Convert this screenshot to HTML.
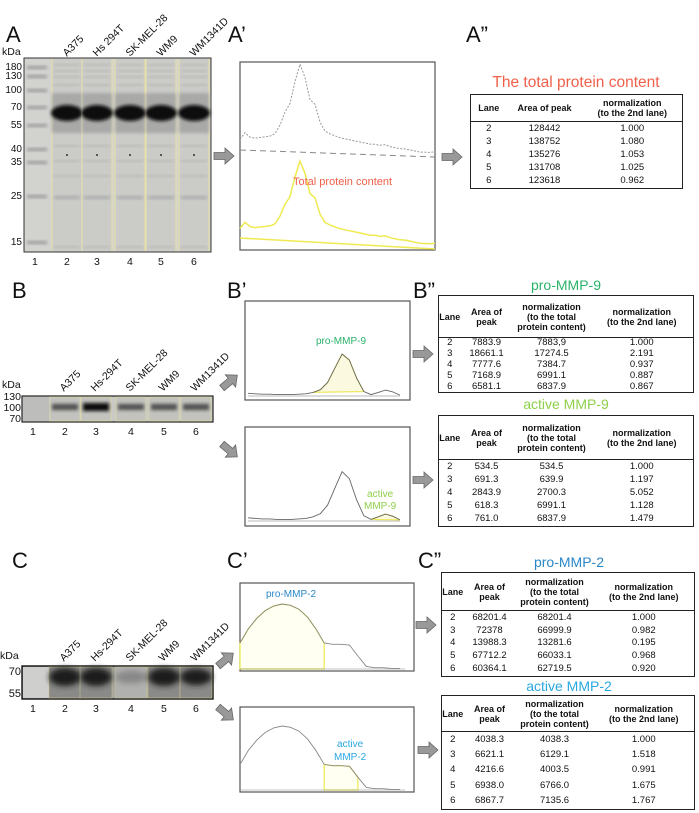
<!DOCTYPE html>
<html><head><meta charset="utf-8">
<style>
body{margin:0;background:#fff;}
#root{position:relative;width:699px;height:813px;overflow:hidden;font-family:"Liberation Sans",sans-serif;color:#111;}
.abs{position:absolute;white-space:nowrap;}
.big{font-size:22px;line-height:22px;}
.lbl{font-size:10.5px;transform-origin:0 100%;transform:rotate(-45deg);}
.num{font-size:10.5px;}
.tk{font-size:10px;text-align:right;width:22px;line-height:10px;}
table{position:absolute;border-collapse:collapse;border:1.5px solid #222;font-size:9.5px;table-layout:fixed;background:#fff;}
th{font-weight:bold;font-size:9px;line-height:10px;border-bottom:1.5px solid #222;padding:0;}
td{text-align:center;padding:0;line-height:10px;}
.ttl{font-size:14px;text-align:center;}
</style></head><body>
<div id="root">
<svg id="svg" width="699" height="813" style="position:absolute;left:0;top:0"></svg>

<div class="abs big" style="left:6px;top:24px">A</div>
<div class="abs big" style="left:228px;top:24px">A’</div>
<div class="abs big" style="left:466px;top:24px">A”</div>
<div class="abs big" style="left:12px;top:280px">B</div>
<div class="abs big" style="left:227px;top:280px">B’</div>
<div class="abs big" style="left:413px;top:280px">B”</div>
<div class="abs big" style="left:12px;top:550px">C</div>
<div class="abs big" style="left:227px;top:550px">C’</div>
<div class="abs big" style="left:418px;top:550px">C”</div>

<div class="abs num" style="left:2px;top:46px">kDa</div>
<div class="abs num" style="left:2px;top:379px">kDa</div>
<div class="abs num" style="left:0px;top:650px">kDa</div>

<div class="abs" style="left:293px;top:176px;font-size:11px;color:#f0604a">Total protein content</div>
<div class="abs" style="left:316px;top:336px;font-size:10px;color:#2bb36a">pro-MMP-9</div>
<div class="abs" style="left:364px;top:489px;font-size:10px;color:#8fd04a;text-align:center;line-height:12px">active<br>MMP-9</div>
<div class="abs" style="left:266px;top:589px;font-size:10px;color:#2a87c8">pro-MMP-2</div>
<div class="abs" style="left:334px;top:738px;font-size:10px;color:#29a8e0;text-align:center;line-height:13px">active<br>MMP-2</div>

<div class="abs ttl" style="left:470px;top:74px;width:212px;font-size:15.5px;color:#f0604a">The total protein content</div>
<table style="left:470px;top:94px;width:213px;height:95px">
<colgroup><col style="width:36px"><col style="width:76px"><col></colgroup>
<tr style="height:27px"><th>Lane</th><th>Area of peak</th><th>normalization<br>(to the 2nd lane)</th></tr>
<tr><td>2</td><td>128442</td><td>1.000</td></tr>
<tr><td>3</td><td>138752</td><td>1.080</td></tr>
<tr><td>4</td><td>135276</td><td>1.053</td></tr>
<tr><td>5</td><td>131708</td><td>1.025</td></tr>
<tr><td>6</td><td>123618</td><td>0.962</td></tr>
</table>

<div class="abs ttl" style="left:438px;top:277px;width:256px;color:#2bb36a">pro-MMP-9</div>
<table style="left:438px;top:295px;width:256px;height:96px">
<colgroup><col style="width:22px"><col style="width:52px"><col style="width:78px"><col></colgroup>
<tr style="height:42px"><th>Lane</th><th>Area of<br>peak</th><th>normalization<br>(to the total<br>protein content)</th><th>normalization<br>(to the 2nd lane)</th></tr>
<tr style="height:11px"><td>2</td><td>7883.9</td><td>7883,9</td><td>1.000</td></tr>
<tr style="height:11px"><td>3</td><td>18661.1</td><td>17274.5</td><td>2.191</td></tr>
<tr style="height:11px"><td>4</td><td>7777.6</td><td>7384.7</td><td>0.937</td></tr>
<tr style="height:11px"><td>5</td><td>7168.9</td><td>6991.1</td><td>0.887</td></tr>
<tr style="height:11px"><td>6</td><td>6581.1</td><td>6837.9</td><td>0.867</td></tr>
</table>
<div class="abs ttl" style="left:438px;top:396px;width:256px;color:#8fd04a">active MMP-9</div>
<table style="left:438px;top:415px;width:256px;height:112px">
<colgroup><col style="width:22px"><col style="width:52px"><col style="width:78px"><col></colgroup>
<tr style="height:44px"><th>Lane</th><th>Area of<br>peak</th><th>normalization<br>(to the total<br>protein content)</th><th>normalization<br>(to the 2nd lane)</th></tr>
<tr><td>2</td><td>534.5</td><td>534.5</td><td>1.000</td></tr>
<tr><td>3</td><td>691.3</td><td>639.9</td><td>1.197</td></tr>
<tr><td>4</td><td>2843.9</td><td>2700.3</td><td>5.052</td></tr>
<tr><td>5</td><td>618.3</td><td>6991.1</td><td>1.128</td></tr>
<tr><td>6</td><td>761.0</td><td>6837.9</td><td>1.479</td></tr>
</table>

<div class="abs ttl" style="left:441px;top:554px;width:256px;color:#2a87c8">pro-MMP-2</div>
<table style="left:441px;top:572px;width:254px;height:105px">
<colgroup><col style="width:22px"><col style="width:52px"><col style="width:78px"><col></colgroup>
<tr style="height:38px"><th>Lane</th><th>Area of<br>peak</th><th>normalization<br>(to the total<br>protein content)</th><th>normalization<br>(to the 2nd lane)</th></tr>
<tr><td>2</td><td>68201.4</td><td>68201.4</td><td>1.000</td></tr>
<tr><td>3</td><td>72378</td><td>66999.9</td><td>0.982</td></tr>
<tr><td>4</td><td>13988.3</td><td>13281.6</td><td>0.195</td></tr>
<tr><td>5</td><td>67712.2</td><td>66033.1</td><td>0.968</td></tr>
<tr><td>6</td><td>60364.1</td><td>62719.5</td><td>0.920</td></tr>
</table>
<div class="abs ttl" style="left:441px;top:678px;width:256px;color:#29a8e0">active MMP-2</div>
<table style="left:441px;top:695px;width:254px;height:115px">
<colgroup><col style="width:22px"><col style="width:52px"><col style="width:78px"><col></colgroup>
<tr style="height:36px"><th>Lane</th><th>Area of<br>peak</th><th>normalization<br>(to the total<br>protein content)</th><th>normalization<br>(to the 2nd lane)</th></tr>
<tr><td>2</td><td>4038.3</td><td>4038.3</td><td>1.000</td></tr>
<tr><td>3</td><td>6621.1</td><td>6129.1</td><td>1.518</td></tr>
<tr><td>4</td><td>4216.6</td><td>4003.5</td><td>0.991</td></tr>
<tr><td>5</td><td>6938.0</td><td>6766.0</td><td>1.675</td></tr>
<tr><td>6</td><td>6867.7</td><td>7135.6</td><td>1.767</td></tr>
</table>
</div>

<script>
// ---- data ----
const laneNames = ["A375","Hs 294T","SK-MEL-28","WM9","WM1341D"];
const laneNamesBC = ["A375","Hs-294T","SK-MEL-28","WM9","WM1341D"];
const laneNumbers = ["1","2","3","4","5","6"];
const markersA = [180,130,100,70,55,40,35,25,15];
const markersB = [130,100,70];
const markersC = [70,55];
const totalProfile = [0.12,0.2,0.15,0.14,0.15,0.16,0.17,0.2,0.3,0.45,0.55,0.8,1.0,0.85,0.6,0.55,0.35,0.25,0.22,0.2,0.18,0.17,0.16,0.15,0.14,0.13,0.12,0.12,0.11,0.12,0.1,0.09,0.08,0.08,0.07,0.06,0.05,0.05,0.05,0.06];
const mmp9Profile = [0.06,0.05,0.04,0.04,0.03,0.03,0.03,0.04,0.05,0.08,0.14,0.3,0.62,0.93,0.8,0.4,0.1,0.03,0.08,0.13,0.09,0.02];
const mmp2Profile = [0.4,0.62,0.78,0.9,0.97,1.0,0.98,0.92,0.8,0.62,0.4,0.38,0.38,0.37,0.2,0.04,0.02,0.02,0.01,0.01];
const laneCentersA = [35,67,97,130,161,194];
const laneCentersBC = [33,65,96,131,164,196];

const NS="http://www.w3.org/2000/svg";
const svg=document.getElementById('svg');
const root=document.getElementById('root');
function el(t,a,p){const e=document.createElementNS(NS,t);for(const k in a)e.setAttribute(k,a[k]);(p||svg).appendChild(e);return e;}
function div(cls,style,txt){const d=document.createElement('div');d.className='abs '+cls;d.style.cssText=style;d.textContent=txt;root.appendChild(d);return d;}

const defs=el('defs',{});
const f=el('filter',{id:'bl',x:'-20%',y:'-50%',width:'140%',height:'200%'},defs);
el('feGaussianBlur',{stdDeviation:'1.5'},f);
const f2=el('filter',{id:'bl2',x:'-20%',y:'-80%',width:'140%',height:'260%'},defs);
el('feGaussianBlur',{stdDeviation:'3'},f2);

// ---- gel A ----
const mkY = v => 58 + ({180:10,130:19,100:33,70:50,55:68,40:92,35:105,25:139,15:185})[v];
let g=el('g',{});


el('rect',{x:24,y:58,width:187,height:194,fill:'#d2d2cf',stroke:'#333','stroke-width':1},g);
laneCentersA.slice(1).forEach((c)=>{
  el('rect',{x:c-15,y:59,width:30,height:192,fill:'#cbcbc8'},g);
  el('line',{x1:c-15,y1:59,x2:c-15,y2:251,stroke:'#e8e2a8','stroke-width':1},g);
  el('line',{x1:c+15,y1:59,x2:c+15,y2:251,stroke:'#e8e2a8','stroke-width':1},g);
  el('rect',{x:c-15,y:93,width:30,height:40,fill:'#a9a9a7',filter:'url(#bl)'},g);
  el('ellipse',{cx:c,cy:113,rx:16,ry:8,fill:'#111',filter:'url(#bl)'},g);
  [64,70,76,84,145,160,175,246].forEach(y=>el('rect',{x:c-13,y:y,width:26,height:2,fill:'#b8b8b5',filter:'url(#bl)'},g));
  el('rect',{x:c-13,y:196,width:26,height:3,fill:'#aaa',filter:'url(#bl)'},g);
  el('rect',{x:c-1,y:154,width:2,height:2,fill:'#555'},g);
});
markersA.forEach(m=>{
  el('rect',{x:27,y:mkY(m)-2,width:20,height:3,fill:'#999',filter:'url(#bl)'},g);
  const d=div('tk',`left:0px;top:${mkY(m)-5}px`,String(m));
  
  
});
laneNumbers.forEach((n,i)=>{const d=div('num',`left:${laneCentersA[i]-3}px;top:256px`,n);
  
  });
laneNames.forEach((n,i)=>{const d=div('lbl',`left:${laneCentersA[i+1]+2}px;top:47px`,n);
  
  });

// ---- gel B ----
g=el('g',{});


el('rect',{x:22,y:396,width:191,height:26,fill:'#c9c9c6',stroke:'#222','stroke-width':1.2},g);
el('rect',{x:23,y:397,width:26,height:24,fill:'#bdbdbb'},g);
const bInt=[0.6,1,0.55,0.6,0.6];
laneCentersBC.slice(1).forEach((c,i)=>{
  el('rect',{x:c-15,y:397,width:30,height:24,fill:'#c2c2be',stroke:'#e2dea0','stroke-width':0.6},g);
  el('rect',{x:c-13,y:405-bInt[i]*2,width:26,height:4+bInt[i]*4,fill:bInt[i]>0.9?'#111':'#555',filter:'url(#bl)'},g);
});
markersB.forEach((m,i)=>{const d=div('tk',`left:-1px;top:${392+i*11}px;font-size:10.5px`,String(m));
  
  });
laneNumbers.forEach((n,i)=>{const d=div('num',`left:${laneCentersBC[i]-3}px;top:426px`,n);
  
  });
laneNamesBC.forEach((n,i)=>{const d=div('lbl',`left:${laneCentersBC[i+1]+1}px;top:382px`,n);
  
  });

// ---- gel C ----
g=el('g',{});


el('rect',{x:22,y:666,width:191,height:33,fill:'#a3a3a1',stroke:'#111','stroke-width':1.4},g);
el('rect',{x:23,y:667,width:26,height:31,fill:'#cfcfcd'},g);
const cInt=[1,1,0.35,1,0.8];
laneCentersBC.slice(1).forEach((c,i)=>{
  const v=cInt[i];
  el('rect',{x:c-16,y:667,width:32,height:31,fill:v>0.5?'#8a8a88':'#b0b0ae',stroke:'#c8c490','stroke-width':0.6},g);
  el('ellipse',{cx:c,cy:677,rx:16,ry:5+v*4,fill:v>0.5?'#1e1e1e':'#888',filter:'url(#bl2)'},g);
});
markersC.forEach((m,i)=>{const d=div('tk',`left:-1px;top:${667+i*22}px;font-size:11px`,String(m));
  
  });
laneNumbers.forEach((n,i)=>{const d=div('num',`left:${laneCentersBC[i]-3}px;top:703px`,n);
  
  });
laneNamesBC.forEach((n,i)=>{const d=div('lbl',`left:${laneCentersBC[i+1]+1}px;top:652px`,n);
  
  });

// ---- densitometry boxes ----
function box(x,y,w,h,name){const r=el('rect',{x:x,y:y,width:w,height:h,fill:'#fff',stroke:'#555','stroke-width':1.2});
  
  }
box(240,62,195,188,'total-protein-densitogram');
box(245,301,165,99,'pro-mmp9-densitogram');
box(245,427,165,99,'active-mmp9-densitogram');
box(240,583,174,88,'pro-mmp2-densitogram');
box(240,707,174,85,'active-mmp2-densitogram');

function trace(data,x0,x1,base0,base1,amp){
  const n=data.length;const xs=i=>x0+(x1-x0)*i/(n-1);
  const ys=i=>base0+(base1-base0)*i/(n-1)-data[i]*amp;
  let d='';data.forEach((v,i)=>{d+=(i?'L':'M')+xs(i).toFixed(1)+','+ys(i).toFixed(1);});
  return {d,xs,ys,n};
}
let t=trace(totalProfile,240,435,150,157,88);
let p=el('path',{d:t.d,fill:'none',stroke:'#999','stroke-width':1,'stroke-dasharray':'2,1.5'});


el('line',{x1:240,y1:150,x2:435,y2:157,stroke:'#888','stroke-width':1,'stroke-dasharray':'6,4'});
t=trace(totalProfile,240,435,238,248,80);
p=el('path',{d:t.d,fill:'none',stroke:'#eeea50','stroke-width':1.5});


el('line',{x1:240,y1:238,x2:435,y2:249,stroke:'#eeea50','stroke-width':1.5});

function mmp9(y0,y1,hiStart,hiEnd,name){
  const tr=trace(mmp9Profile,248,400,y1,y1,y1-y0);
  let dh='';for(let i=hiStart;i<=hiEnd;i++)dh+=(i>hiStart?'L':'M')+tr.xs(i).toFixed(1)+','+tr.ys(i).toFixed(1);
  el('path',{d:dh+'Z',fill:'#fbfae0',stroke:'#eee860','stroke-width':1.2});
  const pp=el('path',{d:tr.d,fill:'none',stroke:'#666','stroke-width':0.9});
  
  
  el('line',{x1:248,y1:y1,x2:400,y2:y1,stroke:'#777','stroke-width':0.6});
}
mmp9(351,396,9,16,'pro-mmp9-trace');
mmp9(468,521,17,21,'active-mmp9-trace');

function mmp2(y0,y1,hiStart,hiEnd,name){
  const tr=trace(mmp2Profile,240,400,y1,y1,y1-y0);
  let dh='';for(let i=hiStart;i<=hiEnd;i++)dh+=(i>hiStart?'L':'M')+tr.xs(i).toFixed(1)+','+tr.ys(i).toFixed(1);
  el('path',{d:dh+`L${tr.xs(hiEnd)},${y1}L${tr.xs(hiStart)},${y1}Z`,fill:'#fffff2',stroke:'#eeea50','stroke-width':1.2});
  const pp=el('path',{d:tr.d,fill:'none',stroke:'#888','stroke-width':0.9});
  
  
  el('line',{x1:240,y1:y1,x2:405,y2:y1,stroke:'#888','stroke-width':0.6});
}
mmp2(604,669,0,10,'pro-mmp2-trace');
mmp2(726,790,10,14,'active-mmp2-trace');

function arrow(x,y,ang,name){
  const a=el('path',{d:'M0,-3.5L11,-3.5L11,-8L20,0L11,8L11,3.5L0,3.5Z',fill:'#999',stroke:'#666','stroke-width':0.8,transform:`translate(${x},${y}) rotate(${ang})`});
  
  
}
arrow(214,156,0,'arrow-a-to-densitogram');
arrow(442,157,0,'arrow-a-to-table');
arrow(222,388,-40,'arrow-b-to-pro');
arrow(222,444,40,'arrow-b-to-active');
arrow(413,354,0,'arrow-b-pro-to-table');
arrow(413,480,0,'arrow-b-active-to-table');
arrow(218,666,-40,'arrow-c-to-pro');
arrow(218,707,40,'arrow-c-to-active');
arrow(416,625,0,'arrow-c-pro-to-table');
arrow(418,750,0,'arrow-c-active-to-table');
</script>
</body></html>
